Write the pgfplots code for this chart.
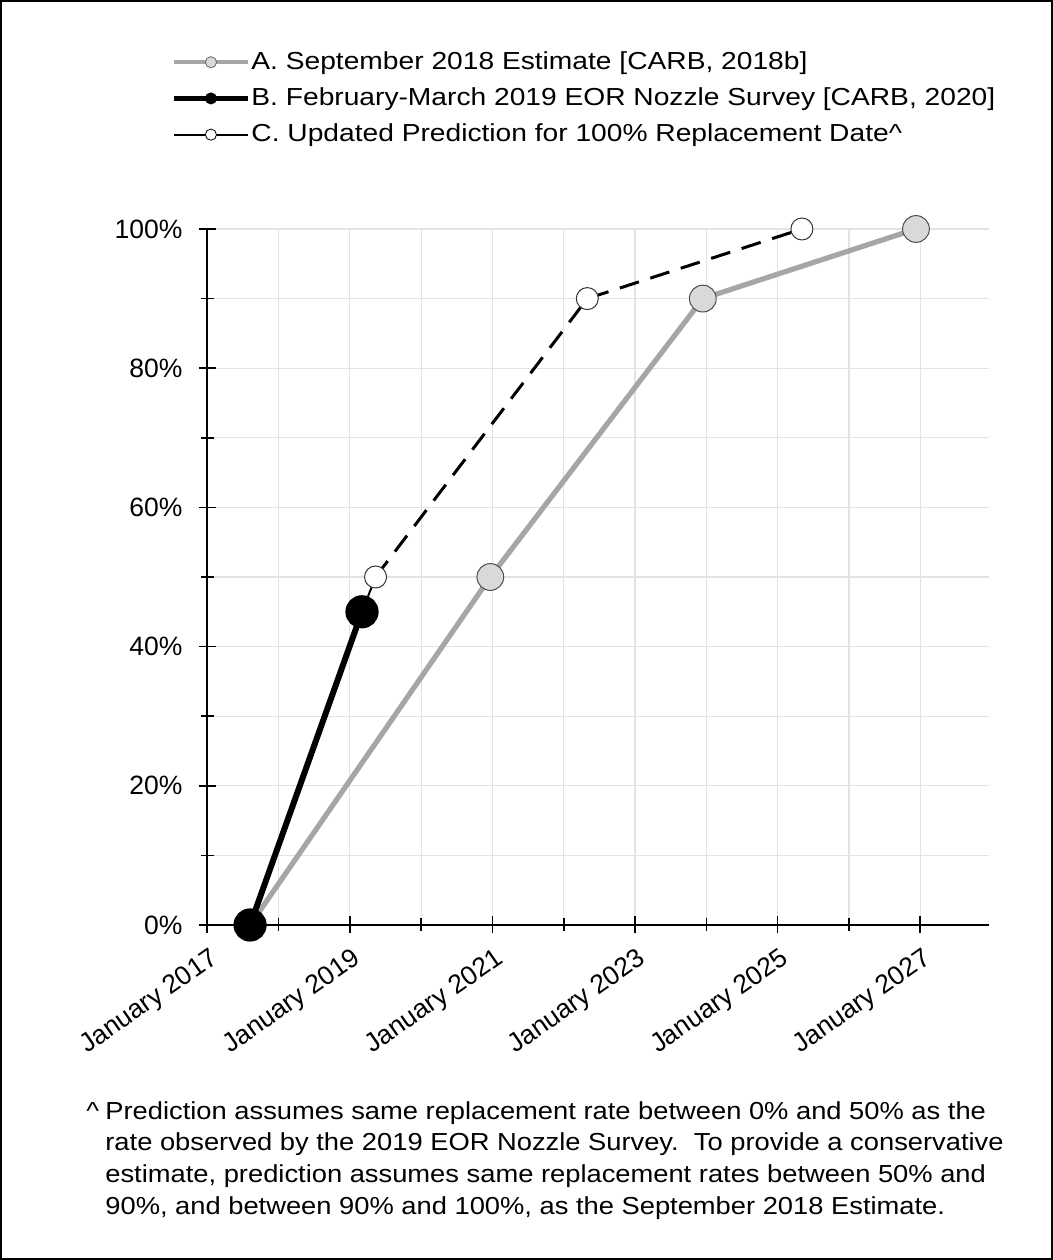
\documentclass[border=0pt]{standalone}
\usepackage{fontspec}
\setmainfont{Liberation Sans}
\newfontfamily\legfont[FakeStretch=1.145]{Liberation Sans}
\newfontfamily\notefont[FakeStretch=1.11]{Liberation Sans}
\usepackage{pgfplots}
\pgfplotsset{compat=1.18}
\definecolor{lineA}{HTML}{A6A6A6}
\definecolor{fillA}{HTML}{D9D9D9}
\definecolor{gridc}{HTML}{E3E3E3}
\begin{document}
\begin{tikzpicture}
\fontsize{13.3}{16}\selectfont
\draw[line width=1bp] (0.5bp,0.5bp) rectangle (526bp,629.5bp);
\begin{axis}[
  at={(103.65bp,167.5bp)}, anchor=south west,
  scale only axis, width=390.7bp, height=348bp,
  xmin=2017, xmax=2027.96, ymin=0, ymax=100,
  axis lines=left, axis line style={line width=1bp, -},
  xtick={2017,2019,2021,2023,2025,2027},
  xticklabels={January 2017,January 2019,January 2021,January 2023,January 2025,January 2027},
  minor xtick={2018,2020,2022,2024,2026},
  ytick={0,20,40,60,80,100},
  minor ytick={10,30,50,70,90},
  yticklabel={\pgfmathprintnumber{\tick}\%},
  /pgf/number format/assume math mode=true,
  tick align=center,
  major tick length=8.5bp, minor tick length=6.5bp,
  tick style={black, line width=0.8bp},
  grid=both, major grid style={gridc, line width=0.6bp}, minor grid style={gridc, line width=0.6bp},
  ticklabel style={font=\fontsize{13.3}{16}\selectfont},
  xticklabel style={rotate=35, anchor=north east, inner sep=2bp, yshift=-3.5bp, xshift=-1bp},
  yticklabel style={inner sep=0pt, xshift=-8bp},
  legend style={at={(-0.0464,1.2587)}, anchor=north west, draw=none, fill=none,
    font=\fontsize{12.35}{15}\legfont, row sep=5.2bp, inner sep=0pt,
    nodes={inner xsep=0.5bp, inner ysep=1bp}},
  legend cell align=left,
  legend image code/.code={\draw[mark repeat=2,mark phase=2,#1] plot coordinates {(0bp,0bp)(18.5bp,0bp)(37bp,0bp)};},
  clip=false,
]
\addlegendimage{lineA, line width=2.2bp, mark=*, mark size=2.8bp, mark options={fill=fillA, draw=gray!80!black, line width=0.4bp}}
\addlegendentry{A. September 2018 Estimate [CARB, 2018b]}
\addlegendimage{black, line width=2.5bp, mark=*, mark size=2.8bp, mark options={fill=black, draw=black, line width=0.4bp}}
\addlegendentry{B. February-March 2019 EOR Nozzle Survey [CARB, 2020]}
\addlegendimage{black, line width=0.9bp, mark=*, mark size=2.8bp, mark options={fill=white, draw=black, line width=0.4bp}}
\addlegendentry{C. Updated Prediction for 100\% Replacement Date\textasciicircum}
% A
\addplot[forget plot, lineA, line width=2.6bp, mark=*, mark size=6.7bp, mark options={fill=fillA, draw=black!70, line width=0.5bp}]
  coordinates {(2017.60,0) (2020.97,50) (2023.95,90) (2026.94,100)};
% C connector
\addplot[forget plot, black, line width=1bp] coordinates {(2019.17,45) (2019.36,50)};
% B
\addplot[forget plot, black, line width=3bp, mark=*, mark size=6.8bp, mark options={fill=black}]
  coordinates {(2017.60,0) (2019.17,45)};
% C
\addplot[forget plot, black, line width=1.5bp, dash pattern=on 10bp off 6bp, mark=*, mark size=5.5bp, mark options={solid, fill=white, draw=black!80, line width=0.5bp}]
  coordinates {(2019.36,50) (2022.33,90) (2025.34,100)};
\end{axis}
\begin{scope}[font=\fontsize{12.35}{15}\notefont]
\node[anchor=base west, inner sep=0pt] at (43bp,70.25bp) {\textasciicircum};
\node[anchor=base west, inner sep=0pt] at (52.5bp,70.25bp) {Prediction assumes same replacement rate between 0\% and 50\% as the};
\node[anchor=base west, inner sep=0pt] at (52.5bp,54.5bp) {rate observed by the 2019 EOR Nozzle Survey.\ \ To provide a conservative};
\node[anchor=base west, inner sep=0pt] at (52.5bp,38.75bp) {estimate, prediction assumes same replacement rates between 50\% and};
\node[anchor=base west, inner sep=0pt] at (52.5bp,23bp) {90\%, and between 90\% and 100\%, as the September 2018 Estimate.};
\end{scope}
\end{tikzpicture}
\end{document}
